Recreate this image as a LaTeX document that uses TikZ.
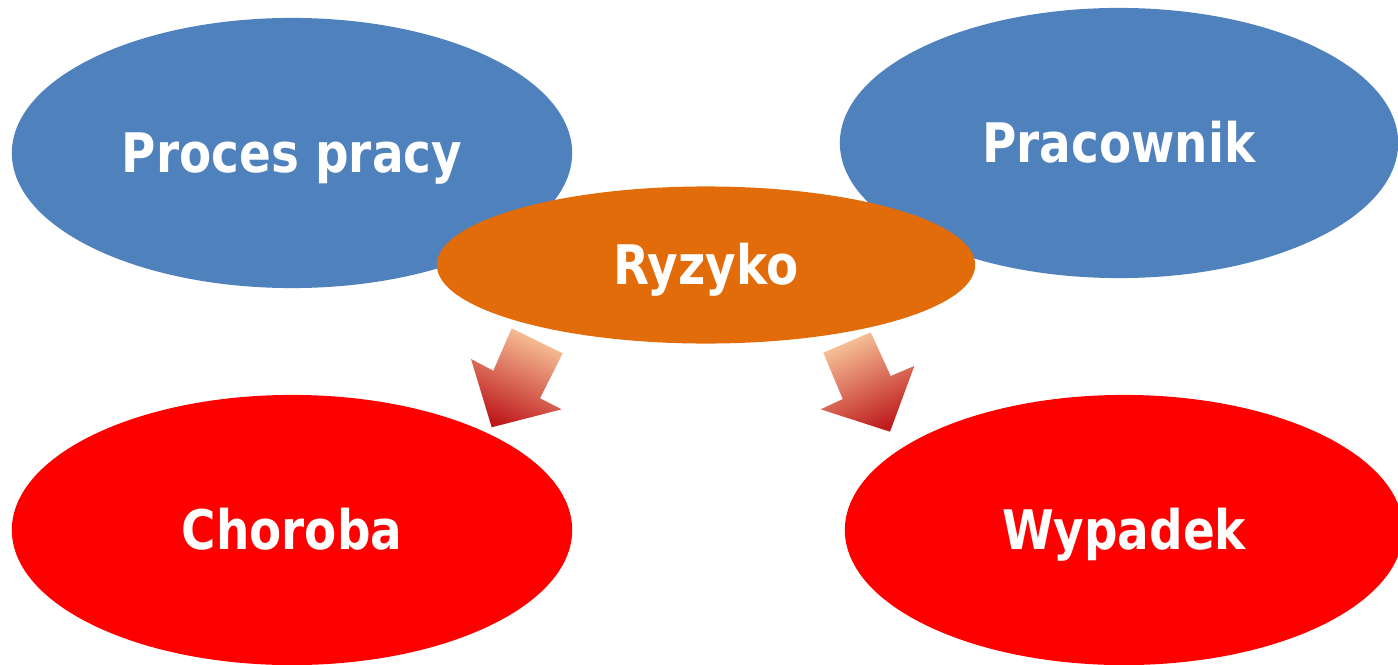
\documentclass[tikz,border=0pt]{standalone}
\usepackage{fontspec}
\setmainfont{DejaVu Sans}[FakeStretch=0.86]
\usetikzlibrary{shapes.geometric}

\definecolor{blueoval}{HTML}{4F81BD}
\definecolor{orangeoval}{HTML}{E36C0A}
\definecolor{redoval}{HTML}{FF0000}
\definecolor{arrowlight}{HTML}{F8C59B}
\definecolor{arrowdark}{HTML}{BE1A1C}

\tikzset{
  oval/.style={ellipse, inner sep=0pt, minimum width=5.6cm, minimum height=2.7cm,
    text=white, font=\fontsize{15.5}{18}\selectfont\bfseries,
    text height=11.3pt, text depth=0pt},
  blueoval/.style={oval, fill=blueoval},
  redoval/.style={oval, fill=redoval},
  blockarrow/.style={top color=arrowlight, bottom color=arrowdark, draw=none}
}

\begin{document}
\begin{tikzpicture}[x=0.01cm, y=-0.01cm]
    \useasboundingbox (0,0) rectangle (1398,664);
    % top row
    \node[blueoval] (proces) at (292,153) {Proces pracy};
    \node[blueoval, minimum width=5.58cm] (pracownik) at (1119,143) {Pracownik};
    % middle
    \node[oval, fill=orangeoval, minimum width=5.38cm, minimum height=1.57cm] (ryzyko) at (706,265) {Ryzyko};
    % bottom row
    \node[redoval] (choroba) at (292,530) {Choroba};
    \node[redoval, minimum width=5.58cm] (wypadek) at (1124,530) {Wypadek};
    % block arrows
    \shade[blockarrow, shading angle=-25] (511.7,328.3) -- (562.7,353.3) -- (540,398.3) -- (561.7,409.3)
      -- (491.7,427.3) -- (471,359) -- (493.3,370.7) -- cycle;
    \shade[blockarrow, shading angle=25] (823.3,352.7) -- (870.7,332.3) -- (890.7,376) -- (914.3,366)
      -- (890,431.7) -- (820.7,409.3) -- (842.7,399) -- cycle;
\end{tikzpicture}
\end{document}
